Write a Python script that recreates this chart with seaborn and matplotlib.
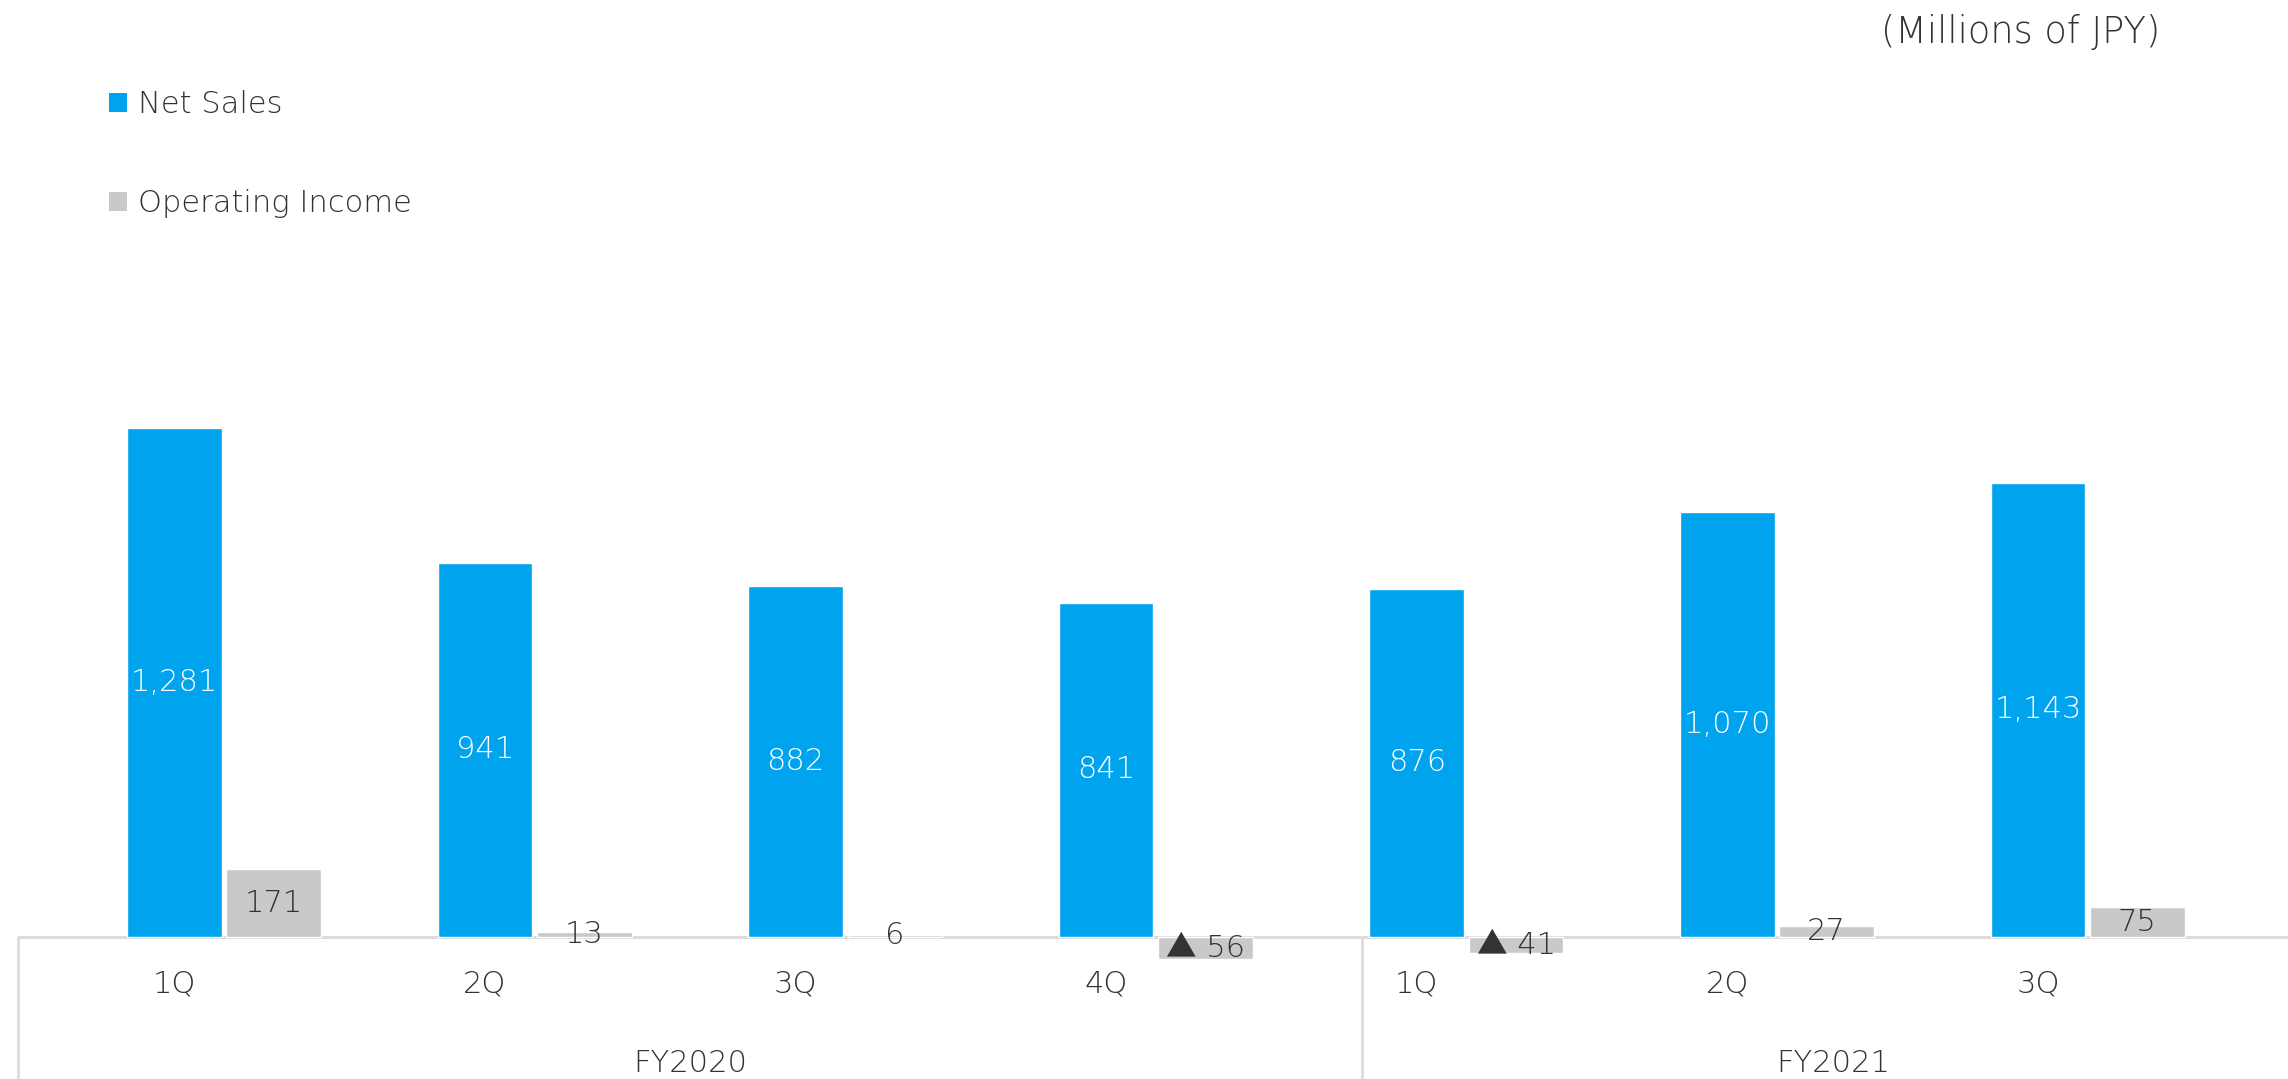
import matplotlib
matplotlib.use("Agg")
import matplotlib.pyplot as plt
import numpy as np
import pandas as pd
import seaborn as sns
from matplotlib.patches import Rectangle

# Quarterly results, millions of JPY
quarters = ["1Q", "2Q", "3Q", "4Q", "1Q", "2Q", "3Q"]
fiscal_years = ["FY2020", "FY2020", "FY2020", "FY2020", "FY2021", "FY2021", "FY2021"]
net_sales = [1281, 941, 882, 841, 876, 1070, 1143]
operating_income = [171, 13, 6, -56, -41, 27, 75]
series_names = ["Net Sales", "Operating Income"]
unit_label = "(Millions of JPY)"

BLUE = "#00A3EE"
GREY = "#C9C9C9"
TEXT = "#333333"
AXIS = "#DCDCDC"

periods = [f"{fy} {q}" for fy, q in zip(fiscal_years, quarters)]
df = pd.DataFrame({
    "period": periods * 2,
    "series": [series_names[0]] * len(periods) + [series_names[1]] * len(periods),
    "value": net_sales + operating_income,
})

sns.set_theme(style="white")
# Thin DejaVu face; the CJK family supplies the ▲ glyph
plt.rcParams["font.family"] = ["DejaVu Sans", "Noto Sans CJK JP"]
plt.rcParams["font.weight"] = "light"

W, H = 2288, 1079
fig = plt.figure(figsize=(W / 100, H / 100), dpi=100)
fig.patch.set_facecolor("white")
ax = fig.add_axes([0, 0, 1, 1])

sns.barplot(data=df, x="period", y="value", hue="series", order=periods,
            hue_order=series_names, palette=[BLUE, GREY], width=0.64, gap=0.05,
            saturation=1, errorbar=None, legend=False, ax=ax, zorder=2)

# Layout: baseline 142 px above the bottom edge, 0.3975 px per million JPY
PX_PER_UNIT = 0.3975
BASE_PX = 142
SLOT_PX = 310.6
FIRST_PX = 224.0
ax.set_ylim(-BASE_PX / PX_PER_UNIT, (H - BASE_PX) / PX_PER_UNIT)
x_lo, x_hi = -FIRST_PX / SLOT_PX, (W - FIRST_PX) / SLOT_PX
ax.set_xlim(x_lo, x_hi)
ax.set_axis_off()

def px_down(dy):
    """Convert a pixel distance below the baseline to data units."""
    return -dy / PX_PER_UNIT

# Category axis frame: baseline plus year separators
left_edge, year_split, right_edge = -0.664, 3.664, 6.70
ax.plot([left_edge, x_hi], [0, 0], color=AXIS, lw=2.2, zorder=1, solid_capstyle="butt")
for xv in (left_edge, year_split):
    ax.plot([xv, xv], [0, ax.get_ylim()[0]], color=AXIS, lw=2.0, zorder=1)

FS = 22
sales_bars = ax.containers[0]
income_bars = ax.containers[1]

for bar, v in zip(sales_bars, net_sales):
    cx = bar.get_x() + bar.get_width() / 2
    ax.text(cx, v / 2, f"{v:,}", color="white", ha="center", va="center",
            fontsize=FS, zorder=4)

for bar, v in zip(income_bars, operating_income):
    cx = bar.get_x() + bar.get_width() / 2
    label = f"▲ {abs(v)}" if v < 0 else f"{v}"
    ax.text(cx, v / 2, label, color=TEXT, ha="center", va="center",
            fontsize=FS, zorder=4)

# Quarter labels under the net sales bars
for bar, q in zip(sales_bars, quarters):
    cx = bar.get_x() + bar.get_width() / 2
    ax.text(cx, px_down(55), q, color=TEXT, ha="center", va="baseline", fontsize=FS)

# Fiscal year labels centred in their spans
for fy, (a, b) in zip(["FY2020", "FY2021"], [(left_edge, year_split), (year_split, right_edge)]):
    ax.text((a + b) / 2, px_down(135), fy, color=TEXT, ha="center", va="baseline", fontsize=FS)

# Legend
def fx(x):
    return x / W

def fy_(y):
    return 1 - y / H

for (name, color), top in zip(zip(series_names, [BLUE, GREY]), [93, 192]):
    fig.add_artist(Rectangle((fx(109), fy_(top + 19)), 18 / W, 19 / H,
                             transform=fig.transFigure, color=color, lw=0))
    fig.text(fx(138), fy_(top + 20), name, color=TEXT, fontsize=22, va="baseline", ha="left")

fig.text(fx(2160), fy_(43), unit_label, color=TEXT, fontsize=26.5, ha="right", va="baseline")

fig.savefig("out.png", dpi=100, facecolor="white")
